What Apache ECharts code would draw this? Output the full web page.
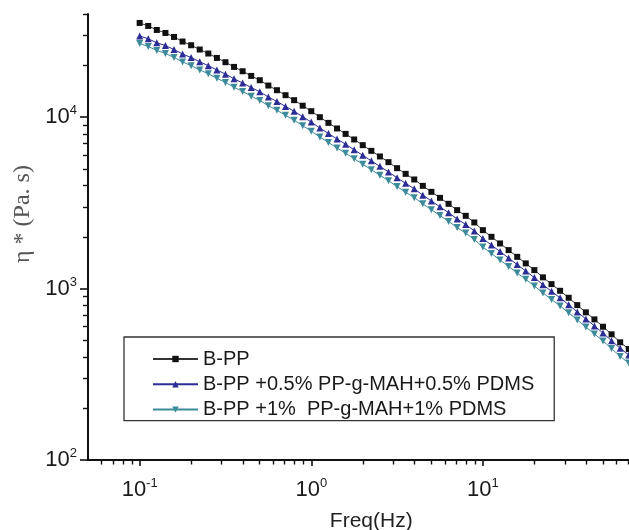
<!DOCTYPE html>
<html><head><meta charset="utf-8">
<script src="https://cdn.jsdelivr.net/npm/echarts@6/dist/echarts.min.js"></script>
<style>html,body{margin:0;padding:0;background:#fff}#c{width:629px;height:530px}</style>
</head><body><div id="c"></div>
<script>
const freq = [0.1, 0.1122, 0.1259, 0.1413, 0.1585, 0.1778, 0.1995, 0.2239, 0.2512, 0.2818,
  0.3162, 0.3548, 0.3981, 0.4467, 0.5012, 0.5623, 0.631, 0.7079, 0.7943, 0.8913,
  1, 1.122, 1.259, 1.413, 1.585, 1.778, 1.995, 2.239, 2.512, 2.818,
  3.162, 3.548, 3.981, 4.467, 5.012, 5.623, 6.31, 7.079, 7.943, 8.913,
  10, 11.22, 12.59, 14.13, 15.85, 17.78, 19.95, 22.39, 25.12, 28.18,
  31.62, 35.48, 39.81, 44.67, 50.12, 56.23, 63.1, 70.79];
const bpp = [35470, 34070, 32280, 31010, 29390, 27630, 26290, 24820, 23520, 22170,
  20930, 19650, 18540, 17410, 16430, 15300, 14370, 13440, 12570, 11670,
  10840, 10000, 9265, 8596, 7990, 7413, 6866, 6362, 5900, 5467,
  5042, 4670, 4332, 3976, 3668, 3384, 3123, 2869, 2658, 2432,
  2193, 2005, 1834, 1677, 1532, 1403, 1282, 1163, 1062, 971,
  884, 801, 727, 661, 599, 541, 486, 444];
const bpp05 = [29800, 28660, 27190, 26160, 24830, 23370, 22270, 21050, 19980, 18860,
  17830, 16760, 15840, 14890, 14070, 13120, 12340, 11560, 10830, 10070,
  9362, 8649, 8030, 7466, 6949, 6455, 5991, 5563, 5166, 4793,
  4430, 4111, 3819, 3510, 3244, 2999, 2771, 2549, 2367, 2170,
  1959, 1795, 1645, 1507, 1380, 1266, 1159, 1053, 964, 883,
  805, 731, 665, 606, 550, 497, 448, 410];
const bpp1 = [26900, 25850, 24500, 23550, 22320, 21000, 19990, 18880, 17900, 16880,
  15940, 14970, 14130, 13270, 12530, 11670, 10970, 10260, 9603, 8920,
  8288, 7662, 7114, 6613, 6160, 5726, 5315, 4934, 4585, 4258,
  3935, 3652, 3394, 3122, 2886, 2668, 2467, 2271, 2108, 1932,
  1746, 1601, 1468, 1346, 1233, 1132, 1037, 943, 864, 792,
  723, 656, 597, 544, 494, 447, 402, 368];
const seriesNames = ['B-PP', 'B-PP +0.5% PP-g-MAH+0.5% PDMS', 'B-PP +1%  PP-g-MAH+1% PDMS'];
const xMajorTicks = [0.1, 1, 10, 100];
const xLabelTicks = [0.1, 1, 10];
const xMinorTicks = [0.06, 0.07, 0.08, 0.09, 0.2, 0.3, 0.4, 0.5, 0.6, 0.7, 0.8, 0.9,
  2, 3, 4, 5, 6, 7, 8, 9, 20, 30, 40, 50, 60, 70, 80, 90];
const yMajorTicks = [100, 1000, 10000];
const yMinorTicks = [200, 300, 400, 500, 600, 700, 800, 900, 2000, 3000, 4000, 5000,
  6000, 7000, 8000, 9000, 20000, 30000, 40000];

const SANS = "'Liberation Sans', Arial, sans-serif";
const SERIF = "'Liberation Serif', 'DejaVu Serif', serif";
const rich = {
  b: { fontSize: 22, fontFamily: SANS, color: '#1a1a1a', lineHeight: 26 },
  s: { fontSize: 13, fontFamily: SANS, color: '#1a1a1a', lineHeight: 14, verticalAlign: 'top' }
};
function powLabel(v) {
  const e = Math.round(Math.log10(v));
  return '{b|10}{s|' + e + '}';
}
const pairs = arr => freq.map((f, i) => [f, arr[i]]);

const chart = echarts.init(document.getElementById('c'), null, { renderer: 'canvas' });
chart.setOption({
  animation: false,
  backgroundColor: '#fff',
  grid: { left: 88, top: 14, width: 566.5, height: 446, outerBoundsMode: 'none', containLabel: false },
  xAxis: [{
    type: 'log', logBase: 10, min: 0.05, max: 100, position: 'bottom',
    axisLine: { onZero: false, lineStyle: { color: '#111', width: 2 } },
    axisTick: { customValues: xMajorTicks, length: 6, lineStyle: { color: '#111', width: 1.6 } },
    axisLabel: { customValues: xLabelTicks, formatter: powLabel, rich: rich, margin: 17 },
    splitLine: { show: false }, minorTick: { show: false },
    name: 'Freq(Hz)', nameLocation: 'middle', nameGap: 51,
    nameTextStyle: { fontSize: 21, fontFamily: SANS, color: '#222' }
  }, {
    type: 'log', logBase: 10, min: 0.05, max: 100, position: 'bottom',
    axisLine: { show: false, onZero: false },
    axisTick: { customValues: xMinorTicks, length: 4.5, lineStyle: { color: '#111', width: 1.4 } },
    axisLabel: { show: false }, splitLine: { show: false }
  }],
  yAxis: [{
    type: 'log', logBase: 10, min: 100, max: 40000, position: 'left',
    axisLine: { onZero: false, lineStyle: { color: '#111', width: 2 } },
    axisTick: { customValues: yMajorTicks, length: 8, lineStyle: { color: '#111', width: 1.6 } },
    axisLabel: { customValues: yMajorTicks, formatter: powLabel, rich: rich, margin: 11 },
    splitLine: { show: false }, minorTick: { show: false },
    name: 'η * (Pa. s)', nameLocation: 'middle', nameGap: 51,
    nameTextStyle: { fontSize: 24, fontFamily: SERIF, color: '#555', padding: [0, 0, 0, 46] }
  }, {
    type: 'log', logBase: 10, min: 100, max: 40000, position: 'left',
    axisLine: { show: false, onZero: false },
    axisTick: { customValues: yMinorTicks, length: 5, lineStyle: { color: '#111', width: 1.4 } },
    axisLabel: { show: false }, splitLine: { show: false }
  }],
  legend: {
    orient: 'vertical', left: 124, top: 337,
    padding: [11, 20, 0, 28],
    borderColor: '#333', borderWidth: 1.3,
    itemWidth: 45, itemHeight: 8, itemGap: 3.3,
    selectedMode: false,
    textStyle: { fontSize: 20, lineHeight: 22, fontFamily: SANS, color: '#1a1a1a' },
    data: seriesNames
  },
  series: [{
    name: seriesNames[0], type: 'line', xAxisIndex: 0, yAxisIndex: 0,
    data: pairs(bpp), symbol: 'rect', symbolSize: 6,
    color: '#111', lineStyle: { color: '#333', width: 1 }, itemStyle: { color: '#111' }
  }, {
    name: seriesNames[1], type: 'line', xAxisIndex: 0, yAxisIndex: 0,
    data: pairs(bpp05), symbol: 'triangle', symbolSize: 7,
    color: '#2c2c96', lineStyle: { color: '#2c2c96', width: 1 }, itemStyle: { color: '#2c2c96' }
  }, {
    name: seriesNames[2], type: 'line', xAxisIndex: 0, yAxisIndex: 0,
    data: pairs(bpp1), symbol: 'triangle', symbolRotate: 180, symbolSize: 7,
    color: '#3d8a9a', lineStyle: { color: '#3d8a9a', width: 1 }, itemStyle: { color: '#3d8a9a' }
  }]
});
</script>
</body></html>
